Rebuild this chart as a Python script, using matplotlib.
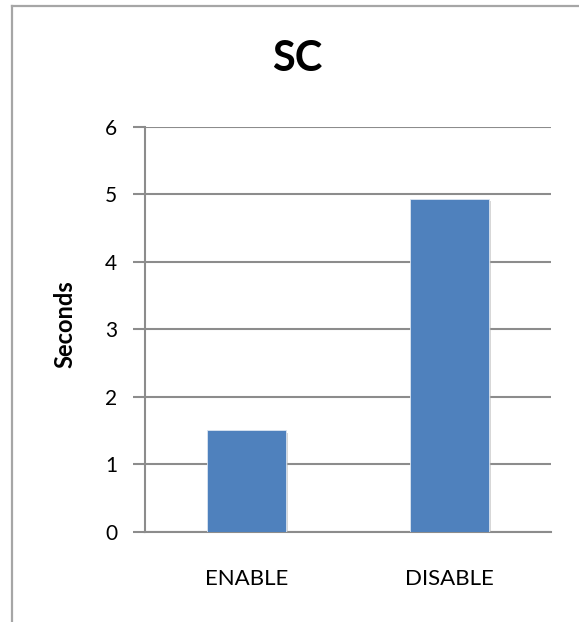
import matplotlib
matplotlib.use("Agg")
import matplotlib.pyplot as plt
from matplotlib.lines import Line2D
import matplotlib.patheffects as pe

categories = ["ENABLE", "DISABLE"]
seconds = [1.5, 4.93]
y_ticks = [0, 1, 2, 3, 4, 5, 6]
title = "SC"
y_label = "Seconds"

W, H, DPI = 579, 622, 100
plt.rcParams["font.family"] = ["Lato", "DejaVu Sans"]

fig = plt.figure(figsize=(W / DPI, H / DPI), dpi=DPI)
fig.patch.set_facecolor("white")

# chart border (left and top edges visible)
frame_col = "#a6a6a6"
fig.add_artist(Line2D([11.7 / W, 11.7 / W], [0, 1 - 5.7 / H], transform=fig.transFigure,
                      color=frame_col, lw=1.6))
fig.add_artist(Line2D([11.7 / W, 1], [1 - 5.7 / H, 1 - 5.7 / H], transform=fig.transFigure,
                      color=frame_col, lw=1.6))

left, right = 145 / W, 551 / W
top, bottom = 1 - 126.7 / H, 1 - 531.7 / H
ax = fig.add_axes([left, bottom, right - left, top - bottom])

x = range(len(categories))
bars = ax.bar(x, seconds, width=0.385, color="#4f81bd", edgecolor="#dbe5f1", linewidth=0.6,
              zorder=3)
for b in bars:
    b.set_path_effects([pe.SimplePatchShadow(offset=(1.5, -1.5), shadow_rgbFace="#b0b0b0",
                                             alpha=0.5), pe.Normal()])

ax.set_xlim(-0.5, 1.5)
ax.set_ylim(0, 6)
ax.set_yticks(y_ticks)
ax.set_yticklabels([str(t) for t in y_ticks])
ax.set_xticks(list(x))
ax.set_xticklabels(categories)

grid_col = "#8c8c8c"
ax.yaxis.grid(True, color=grid_col, lw=1.5, zorder=0)
ax.xaxis.grid(False)
for s in ["top", "right"]:
    ax.spines[s].set_visible(False)
ax.spines["left"].set_color(grid_col)
ax.spines["left"].set_linewidth(1.5)
ax.spines["bottom"].set_color(grid_col)
ax.spines["bottom"].set_linewidth(1.5)
ax.spines["left"].set_zorder(2)

ax.tick_params(axis="y", length=8.6, width=1.5, color=grid_col, pad=11.5, labelsize=15,
               labelcolor="black")
ax.tick_params(axis="x", length=0, pad=27, labelsize=16, labelcolor="black")
ax.set_facecolor("white")

fig.text(297 / W, 1 - 59 / H, title, ha="center", va="center", fontsize=30,
         fontweight="bold")
fig.text(65 / W, 1 - 324 / H, y_label, ha="center", va="center", rotation=90,
         fontsize=17, fontweight="bold")

fig.savefig("out.png", dpi=DPI, facecolor="white")
